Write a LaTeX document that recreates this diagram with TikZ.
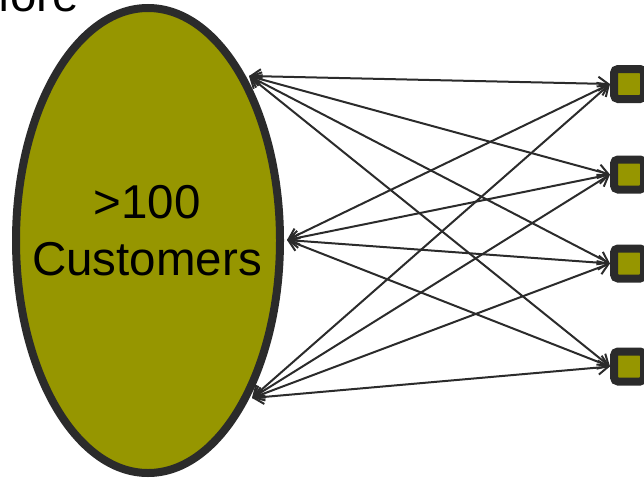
\documentclass[tikz,border=0pt]{standalone}
\usepackage{fontspec}
\setmainfont{Liberation Sans}
\usetikzlibrary{arrows.meta,shapes.geometric}
\definecolor{leafolive}{HTML}{969600}
\definecolor{inkgray}{HTML}{2B2B2B}
\tikzset{
  bigtext/.style={font=\fontsize{47.5}{57}\selectfont, inner sep=0pt},
  custblob/.style={ellipse, draw=inkgray, line width=8pt, fill=leafolive,
    minimum width=264pt, minimum height=465pt, inner sep=0pt},
  boxnode/.style={rectangle, rounded corners=4pt, draw=inkgray, line width=8pt,
    fill=leafolive, minimum width=30pt, minimum height=30pt, inner sep=0pt},
  link/.style={draw=inkgray, line width=2pt,
    {Straight Barb[length=10pt,width=14pt]}-{Straight Barb[length=10pt,width=14pt]}}
}
\begin{document}
\begin{tikzpicture}[x=1pt,y=-1pt]
\useasboundingbox (0,0) rectangle (644,479);
\clip (0,0) rectangle (644,479);

% heading, partly outside the frame
\node[bigtext, anchor=base west] (more) at (-29.5,12) {More};

% customer group
\node[custblob] (cust) at (148,240.5) {};
\node[bigtext, anchor=base] (l1) at (147,218) {>100};
\node[bigtext, anchor=base] (l2) at (147,275) {Customers};

% attachment points on the ellipse
\coordinate (ta) at (249,76);
\coordinate (tb) at (287,240);
\coordinate (tc) at (252,398);

% small boxes on the right
\node[boxnode] (s1) at (629,84) {};
\node[boxnode] (s2) at (629,174.5) {};
\node[boxnode] (s3) at (629,263.5) {};
\node[boxnode] (s4) at (629,366.5) {};

% all-to-all links
\foreach \a in {ta,tb,tc}{
  \foreach \b in {s1,s2,s3,s4}{
    \draw[link] (\a) -- (\b.west);
  }
}
\end{tikzpicture}
\end{document}
